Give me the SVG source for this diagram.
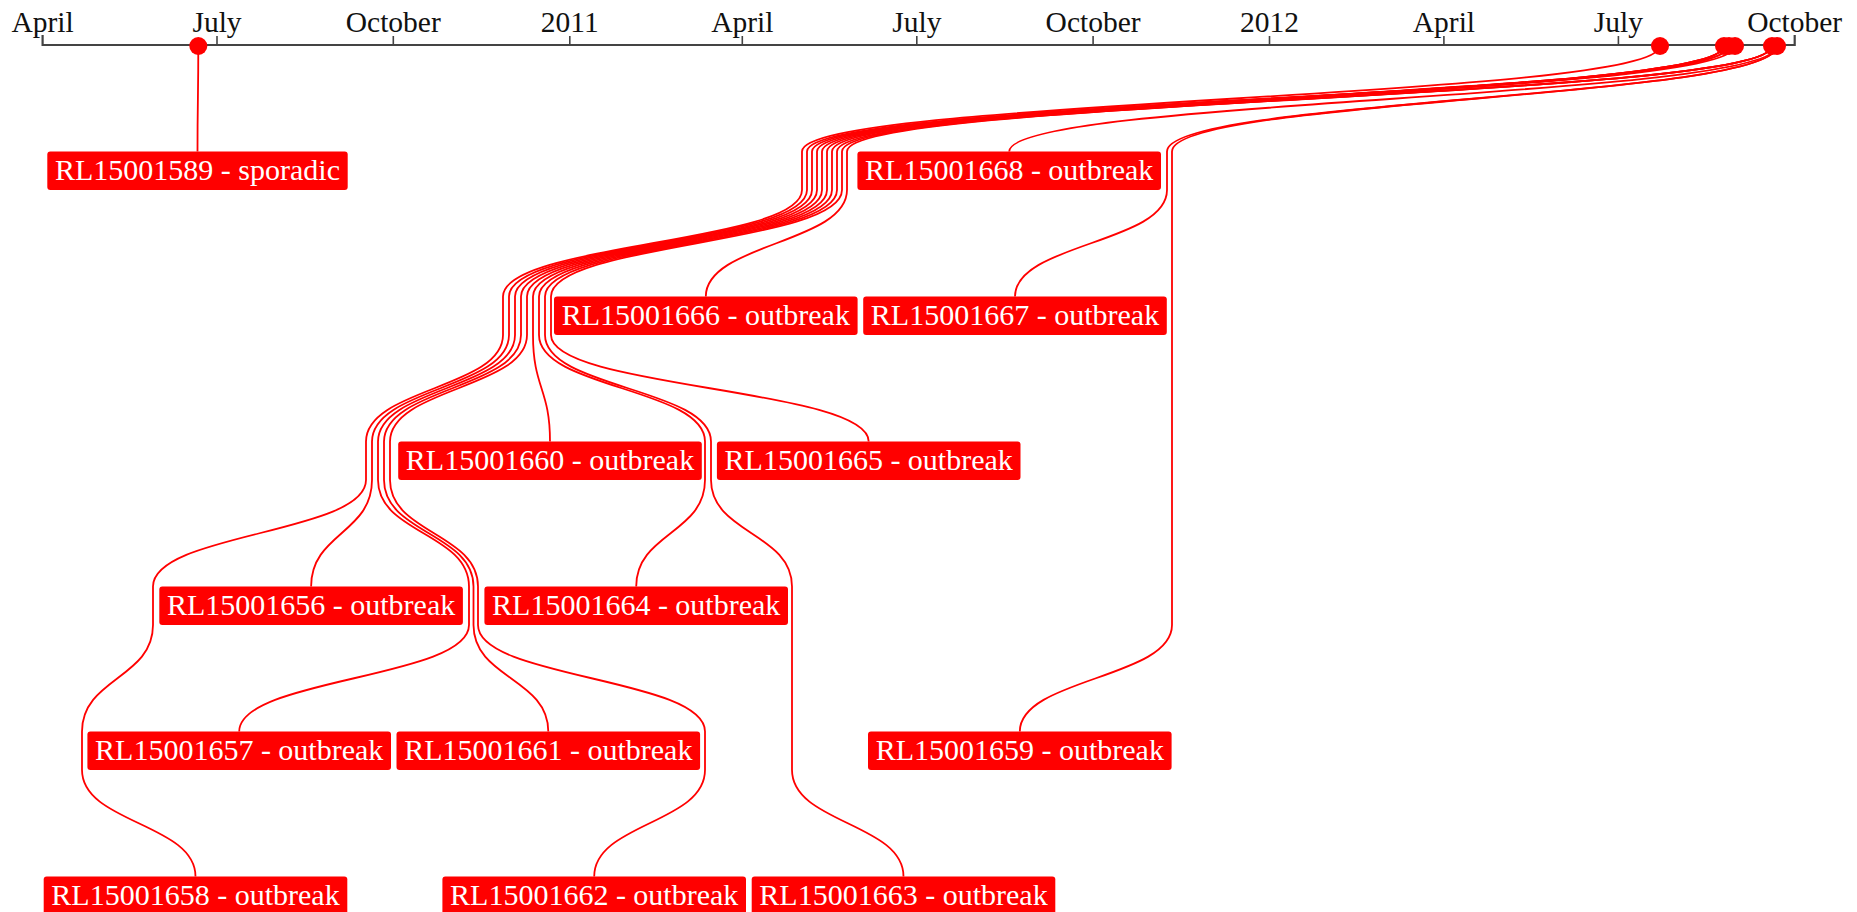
<svg xmlns="http://www.w3.org/2000/svg" width="1857" height="912" viewBox="0 0 1857 912">
  <style>
    .axis-line { fill: none; stroke: #444; stroke-width: 2.2; }
    .tick { stroke: #444; stroke-width: 1.6; }
    .tick-label { font-family: "Liberation Serif", "Times New Roman", serif; font-size: 29.5px; fill: #111; text-anchor: middle; }
    .link { fill: none; stroke: #ff0000; stroke-width: 1.8; }
    .dot { fill: #ff0000; }
    .box { fill: #ff0000; }
    .label { font-family: "Liberation Serif", "Times New Roman", serif; font-size: 30px; fill: #fff; text-anchor: middle; }
  </style>

  <rect width="1857" height="912" fill="#fff"/>

  <!-- time axis: Apr 2010 .. Oct 2012 -->
  <g id="axis">
    <path class="axis-line" d="M42.6,35V45H1794.7V35"/>
    <g class="ticks">
      <line class="tick" x1="217.0" y1="36" x2="217.0" y2="45"/>
      <line class="tick" x1="393.3" y1="36" x2="393.3" y2="45"/>
      <line class="tick" x1="569.8" y1="36" x2="569.8" y2="45"/>
      <line class="tick" x1="742.3" y1="36" x2="742.3" y2="45"/>
      <line class="tick" x1="916.8" y1="36" x2="916.8" y2="45"/>
      <line class="tick" x1="1093.1" y1="36" x2="1093.1" y2="45"/>
      <line class="tick" x1="1269.5" y1="36" x2="1269.5" y2="45"/>
      <line class="tick" x1="1443.9" y1="36" x2="1443.9" y2="45"/>
      <line class="tick" x1="1618.4" y1="36" x2="1618.4" y2="45"/>
    </g>
    <text class="tick-label" x="42.6" y="32">April</text>
    <text class="tick-label" x="217.0" y="32">July</text>
    <text class="tick-label" x="393.3" y="32">October</text>
    <text class="tick-label" x="569.8" y="32">2011</text>
    <text class="tick-label" x="742.3" y="32">April</text>
    <text class="tick-label" x="916.8" y="32">July</text>
    <text class="tick-label" x="1093.1" y="32">October</text>
    <text class="tick-label" x="1269.5" y="32">2012</text>
    <text class="tick-label" x="1443.9" y="32">April</text>
    <text class="tick-label" x="1618.4" y="32">July</text>
    <text class="tick-label" x="1794.7" y="32">October</text>
  </g>

  <!-- connectors: axis date -> stubs through each layer -> label -->
  <g id="links">
    <path class="link" d="M198.3,46 C198.3,98.75 197.5,98.75 197.5,151.5"/>
    <path class="link" d="M1777,46 C1777,98.75 1009.2,98.75 1009.2,151.5"/>
    <path class="link" d="M1772,46 C1772,98.75 847,98.75 847,151.5 L847,190 C847,243.25 705.8,243.25 705.8,296.5"/>
    <path class="link" d="M1777,46 C1777,98.75 1167,98.75 1167,151.5 L1167,190 C1167,243.25 1015,243.25 1015,296.5"/>
    <path class="link" d="M1729,46 C1729,98.75 827,98.75 827,151.5 L827,190 C827,243.25 533,243.25 533,296.5 L533,335 C533,388.25 550,388.25 550,441.5"/>
    <path class="link" d="M1772,46 C1772,98.75 842,98.75 842,151.5 L842,190 C842,243.25 551,243.25 551,296.5 L551,335 C551,388.25 868.7,388.25 868.7,441.5"/>
    <path class="link" d="M1724,46 C1724,98.75 807,98.75 807,151.5 L807,190 C807,243.25 509,243.25 509,296.5 L509,335 C509,388.25 372,388.25 372,441.5 L372,480 C372,533.25 311.1,533.25 311.1,586.5"/>
    <path class="link" d="M1735,46 C1735,98.75 832,98.75 832,151.5 L832,190 C832,243.25 539,243.25 539,296.5 L539,335 C539,388.25 705,388.25 705,441.5 L705,480 C705,533.25 636.2,533.25 636.2,586.5"/>
    <path class="link" d="M1724,46 C1724,98.75 812,98.75 812,151.5 L812,190 C812,243.25 515,243.25 515,296.5 L515,335 C515,388.25 378,388.25 378,441.5 L378,480 C378,533.25 469,533.25 469,586.5 L469,625 C469,678.25 239.2,678.25 239.2,731.5"/>
    <path class="link" d="M1724,46 C1724,98.75 817,98.75 817,151.5 L817,190 C817,243.25 521,243.25 521,296.5 L521,335 C521,388.25 384,388.25 384,441.5 L384,480 C384,533.25 473.5,533.25 473.5,586.5 L473.5,625 C473.5,678.25 548.3,678.25 548.3,731.5"/>
    <path class="link" d="M1777,46 C1777,98.75 1172,98.75 1172,151.5 L1172,625 C1172,678.25 1019.8,678.25 1019.8,731.5"/>
    <path class="link" d="M1660,46 C1660,98.75 802,98.75 802,151.5 L802,190 C802,243.25 503,243.25 503,296.5 L503,335 C503,388.25 366,388.25 366,441.5 L366,480 C366,533.25 153,533.25 153,586.5 L153,625 C153,678.25 82,678.25 82,731.5 L82,770 C82,823.25 195.5,823.25 195.5,876.5"/>
    <path class="link" d="M1729,46 C1729,98.75 822,98.75 822,151.5 L822,190 C822,243.25 527,243.25 527,296.5 L527,335 C527,388.25 390,388.25 390,441.5 L390,480 C390,533.25 478,533.25 478,586.5 L478,625 C478,678.25 705,678.25 705,731.5 L705,770 C705,823.25 594.2,823.25 594.2,876.5"/>
    <path class="link" d="M1772,46 C1772,98.75 837,98.75 837,151.5 L837,190 C837,243.25 545,243.25 545,296.5 L545,335 C545,388.25 711,388.25 711,441.5 L711,480 C711,533.25 792,533.25 792,586.5 L792,770 C792,823.25 903.5,823.25 903.5,876.5"/>
  </g>

  <!-- event markers on the axis -->
  <g id="dots">
    <circle class="dot" cx="198.3" cy="46" r="9"/>
    <circle class="dot" cx="1660" cy="46" r="9"/>
    <circle class="dot" cx="1724" cy="46" r="9"/>
    <circle class="dot" cx="1729" cy="46" r="9"/>
    <circle class="dot" cx="1735" cy="46" r="9"/>
    <circle class="dot" cx="1772" cy="46" r="9"/>
    <circle class="dot" cx="1777" cy="46" r="9"/>
  </g>

  <!-- labels, layer 0 -->
  <g id="RL15001589">
    <rect class="box" x="47.3" y="151.5" width="300.4" height="38.5" rx="3"/>
    <text class="label" x="197.5" y="180">RL15001589 - sporadic</text>
  </g>
  <g id="RL15001668">
    <rect class="box" x="857.4" y="151.5" width="303.6" height="38.5" rx="3"/>
    <text class="label" x="1009.2" y="180">RL15001668 - outbreak</text>
  </g>

  <!-- layer 1 -->
  <g id="RL15001666">
    <rect class="box" x="554" y="296.5" width="303.6" height="38.5" rx="3"/>
    <text class="label" x="705.8" y="325">RL15001666 - outbreak</text>
  </g>
  <g id="RL15001667">
    <rect class="box" x="863.2" y="296.5" width="303.6" height="38.5" rx="3"/>
    <text class="label" x="1015" y="325">RL15001667 - outbreak</text>
  </g>

  <!-- layer 2 -->
  <g id="RL15001660">
    <rect class="box" x="398.2" y="441.5" width="303.6" height="38.5" rx="3"/>
    <text class="label" x="550" y="470">RL15001660 - outbreak</text>
  </g>
  <g id="RL15001665">
    <rect class="box" x="716.9" y="441.5" width="303.6" height="38.5" rx="3"/>
    <text class="label" x="868.7" y="470">RL15001665 - outbreak</text>
  </g>

  <!-- layer 3 -->
  <g id="RL15001656">
    <rect class="box" x="159.3" y="586.5" width="303.6" height="38.5" rx="3"/>
    <text class="label" x="311.1" y="615">RL15001656 - outbreak</text>
  </g>
  <g id="RL15001664">
    <rect class="box" x="484.4" y="586.5" width="303.6" height="38.5" rx="3"/>
    <text class="label" x="636.2" y="615">RL15001664 - outbreak</text>
  </g>

  <!-- layer 4 -->
  <g id="RL15001657">
    <rect class="box" x="87.4" y="731.5" width="303.6" height="38.5" rx="3"/>
    <text class="label" x="239.2" y="760">RL15001657 - outbreak</text>
  </g>
  <g id="RL15001661">
    <rect class="box" x="396.5" y="731.5" width="303.6" height="38.5" rx="3"/>
    <text class="label" x="548.3" y="760">RL15001661 - outbreak</text>
  </g>
  <g id="RL15001659">
    <rect class="box" x="868" y="731.5" width="303.6" height="38.5" rx="3"/>
    <text class="label" x="1019.8" y="760">RL15001659 - outbreak</text>
  </g>

  <!-- layer 5 -->
  <g id="RL15001658">
    <rect class="box" x="43.7" y="876.5" width="303.6" height="38.5" rx="3"/>
    <text class="label" x="195.5" y="905">RL15001658 - outbreak</text>
  </g>
  <g id="RL15001662">
    <rect class="box" x="442.4" y="876.5" width="303.6" height="38.5" rx="3"/>
    <text class="label" x="594.2" y="905">RL15001662 - outbreak</text>
  </g>
  <g id="RL15001663">
    <rect class="box" x="751.7" y="876.5" width="303.6" height="38.5" rx="3"/>
    <text class="label" x="903.5" y="905">RL15001663 - outbreak</text>
  </g>
</svg>
